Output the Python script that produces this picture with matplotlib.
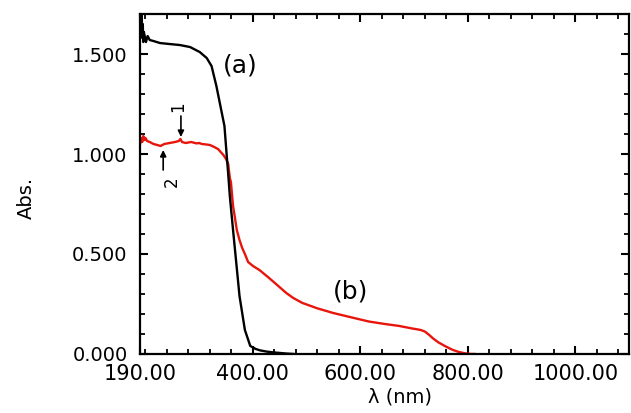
#!/usr/bin/env python3
"""
UV-Vis absorption spectra of samples (a) and (b).
"""

import matplotlib
matplotlib.use('Agg')
import matplotlib.pyplot as plt
from matplotlib.ticker import FixedLocator, MultipleLocator, FormatStrFormatter

plt.rcParams.update({
    'font.family': 'DejaVu Sans',
    'font.size': 15,
    'axes.linewidth': 1.6,
    'xtick.direction': 'in',
    'ytick.direction': 'in',
    'xtick.top': True,
    'ytick.right': True,
    'xtick.minor.visible': True,
    'ytick.minor.visible': True,
    'xtick.major.size': 6,
    'xtick.minor.size': 3.5,
    'ytick.major.size': 6,
    'ytick.minor.size': 3.5,
    'xtick.major.width': 1.5,
    'xtick.minor.width': 1.3,
    'ytick.major.width': 1.5,
    'ytick.minor.width': 1.3,
})

# Spectrum (a)
wl_a = [190, 191, 192, 193, 194, 195, 196, 197, 199, 201, 204, 208, 215, 227,
        245, 264, 283, 301, 314, 323, 332, 341, 347, 351, 354, 357, 363, 369,
        375, 385, 395, 405, 413, 425, 437, 450, 462, 475]
abs_a = [1.62, 1.72, 1.60, 1.70, 1.58, 1.65, 1.56, 1.61, 1.585, 1.56, 1.59, 1.57,
         1.565, 1.555, 1.55, 1.545, 1.535, 1.51, 1.48, 1.44, 1.34, 1.22, 1.14,
         1.0, 0.90, 0.79, 0.62, 0.455, 0.29, 0.12, 0.04, 0.025, 0.018, 0.012,
         0.008, 0.005, 0.002, 0.0]

# Spectrum (b)
wl_b = [190, 192, 194, 196, 198, 200, 203, 208, 215, 222, 228, 235, 245, 255,
        262, 265, 268, 275, 285, 295, 300, 305, 312, 320, 328, 335, 340, 345,
        350, 354, 357, 359, 361, 363, 366, 370, 375, 380, 385, 391, 400, 412,
        430, 445, 462, 475, 492, 520, 549, 580, 616, 645, 672, 695, 712, 720,
        728, 735, 745, 759, 772, 783, 795, 805, 812]
abs_b = [1.05, 1.08, 1.06, 1.09, 1.07, 1.08, 1.065, 1.06, 1.05, 1.045, 1.04,
         1.05, 1.055, 1.06, 1.065, 1.075, 1.06, 1.055, 1.06, 1.053, 1.055, 1.05,
         1.048, 1.045, 1.035, 1.025, 1.01, 0.995, 0.975, 0.95, 0.88, 0.86, 0.80,
         0.74, 0.69, 0.62, 0.57, 0.53, 0.50, 0.46, 0.44, 0.42, 0.38, 0.345,
         0.305, 0.28, 0.255, 0.228, 0.205, 0.185, 0.162, 0.15, 0.14, 0.128,
         0.12, 0.112, 0.095, 0.078, 0.058, 0.037, 0.02, 0.01, 0.003, 0.0, 0.0]

x_major = [190, 400, 600, 800, 1000]

fig = plt.figure(figsize=(6.31, 4.13), dpi=100)
ax = fig.add_axes([0.222, 0.143, 0.775, 0.823])

ax.plot(wl_b, abs_b, color='#e8150c', lw=1.7)
ax.plot(wl_a, abs_a, color='black', lw=1.7)

ax.set_xlim(190, 1100)
ax.set_ylim(0, 1.7)

ax.xaxis.set_major_locator(FixedLocator(x_major))
ax.xaxis.set_minor_locator(MultipleLocator(40))
ax.xaxis.set_major_formatter(FormatStrFormatter('%.2f'))
ax.yaxis.set_major_locator(MultipleLocator(0.5))
ax.yaxis.set_minor_locator(MultipleLocator(0.1))
ax.yaxis.set_major_formatter(FormatStrFormatter('%.3f'))
ax.tick_params(axis='x', which='major', pad=7, labelsize=15)
ax.tick_params(axis='y', which='major', pad=9, labelsize=14)

ax.set_xlabel('\u03bb (nm)', fontsize=14)
ax.xaxis.set_label_coords(0.532, -0.1)
ax.set_ylabel('Abs.', fontsize=14)
ax.yaxis.set_label_coords(-0.213, 0.46)

# Curve labels
ax.text(376, 1.445, '(a)', fontsize=18, ha='center', va='center')
ax.text(581, 0.31, '(b)', fontsize=18, ha='center', va='center')

# Markers 1 and 2 on spectrum (b)
ax.text(260, 1.235, '1', fontsize=12, rotation=90, ha='center', va='center')
ax.annotate('', xy=(266, 1.085), xytext=(266, 1.19),
            arrowprops=dict(arrowstyle='-|>', color='black', lw=1.2,
                            mutation_scale=9, shrinkA=0, shrinkB=0))
ax.text(249, 0.86, '2', fontsize=12, rotation=90, ha='center', va='center')
ax.annotate('', xy=(233, 1.02), xytext=(233, 0.92),
            arrowprops=dict(arrowstyle='-|>', color='black', lw=1.2,
                            mutation_scale=9, shrinkA=0, shrinkB=0))

fig.savefig('out.png', dpi=100, facecolor='white')
plt.close(fig)
